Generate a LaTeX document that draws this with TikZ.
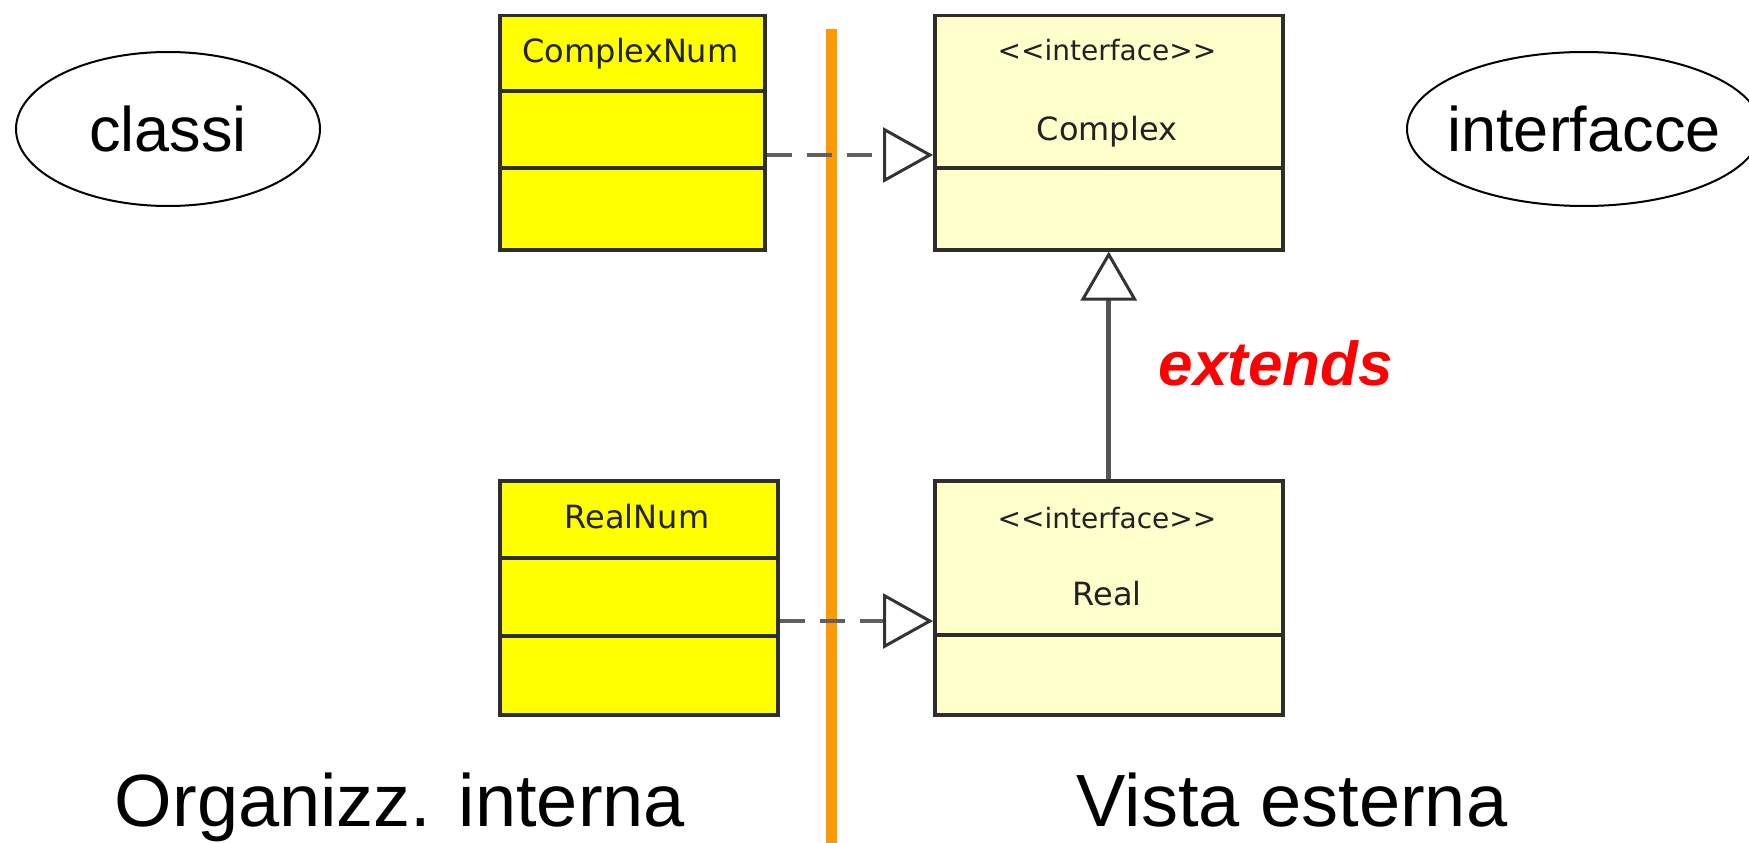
\documentclass[tikz,border=0pt]{standalone}
\usepackage{fontspec}
\setmainfont{Liberation Sans}
\newfontfamily\umlfont{DejaVu Sans}
\usetikzlibrary{arrows.meta,shapes.geometric}

\definecolor{classyellow}{HTML}{FFFF00}
\definecolor{ifaceyellow}{HTML}{FFFFCC}
\definecolor{boxline}{HTML}{2E2E2E}
\definecolor{dashgray}{HTML}{606060}
\definecolor{tipgray}{HTML}{333333}
\definecolor{linkgray}{HTML}{555555}
\definecolor{sideorange}{HTML}{FF9900}
\definecolor{umltext}{HTML}{222222}

\tikzset{
  umlbox/.style={draw=boxline, line width=3.5pt, anchor=north west, inner sep=0pt},
  classbox/.style={umlbox, fill=classyellow},
  ifacebox/.style={umlbox, fill=ifaceyellow},
  boxrule/.style={draw=boxline, line width=3.5pt},
  umlname/.style={font=\umlfont\fontsize{32}{36}\selectfont, text=umltext, anchor=base, inner sep=0pt},
  stereo/.style={font=\umlfont\fontsize{28}{32}\selectfont, text=umltext, anchor=base, inner sep=0pt},
  realize/.style={draw=dashgray, line width=4pt, dash pattern=on 25pt off 15pt,
    -{Triangle[length=50pt, width=55pt, line width=3pt, color=tipgray, fill=white]}},
  generalize/.style={draw=linkgray, line width=5pt,
    -{Triangle[length=49pt, width=56pt, line width=3pt, color=tipgray, fill=white]}},
  bubble/.style={ellipse, draw=black, line width=2pt, inner sep=0pt},
  bubbletext/.style={font=\fontsize{63}{70}\selectfont, inner sep=0pt},
  caption/.style={font=\fontsize{74}{80}\selectfont, anchor=base, inner sep=0pt},
  separator/.style={draw=sideorange, line width=11pt},
}

\begin{document}
\begin{tikzpicture}[x=1pt, y=-1pt]
  \useasboundingbox (0,0) rectangle (1749,843);

  % vertical separator between the two sides
  \coordinate (septop) at (831,29);
  \coordinate (sepbot) at (831,843);
  \draw[separator] (septop) -- (sepbot);

  % implementation classes
  \node[classbox, minimum width=265pt, minimum height=234pt] (cnum) at (498,14) {};
  \draw[boxrule] (cnum.west |- 0,91) -- (cnum.east |- 0,91);
  \draw[boxrule] (cnum.west |- 0,168) -- (cnum.east |- 0,168);
  \node[umlname] (cnumname) at (630.5,63) {ComplexNum};

  \node[classbox, minimum width=278pt, minimum height=234pt] (rnum) at (498,479) {};
  \draw[boxrule] (rnum.west |- 0,558) -- (rnum.east |- 0,558);
  \draw[boxrule] (rnum.west |- 0,636) -- (rnum.east |- 0,636);
  \node[umlname] (rnumname) at (637,528) {RealNum};

  % interfaces
  \node[ifacebox, minimum width=348pt, minimum height=234pt] (cplx) at (933,14) {};
  \draw[boxrule] (cplx.west |- 0,168) -- (cplx.east |- 0,168);
  \node[stereo] (cplxst) at (1107,60) {<<interface>>};
  \node[umlname] (cplxname) at (1107,140) {Complex};

  \node[ifacebox, minimum width=348pt, minimum height=234pt] (real) at (933,479) {};
  \draw[boxrule] (real.west |- 0,635) -- (real.east |- 0,635);
  \node[stereo] (realst) at (1107,528) {<<interface>>};
  \node[umlname] (realname) at (1107,605) {Real};

  % relations
  \draw[realize] (cnum.east |- 0,155) -- (cplx.west |- 0,155);
  \draw[realize] (rnum.east |- 0,621) -- (real.west |- 0,621);
  \draw[generalize] (real.north) -- (cplx.south);
  \node[anchor=base, inner sep=0pt, text=red,
        font=\bfseries\itshape\fontsize{62}{68}\selectfont] (ext) at (1276,385) {extends};

  % side labels
  \node[bubble, minimum width=304pt, minimum height=154pt] (classi) at (168,129) {};
  \node[bubbletext] (classitext) at (classi.center) {classi};
  \node[bubble, minimum width=354pt, minimum height=154pt] (ifc) at (1584,129) {};
  \node[bubbletext] (ifctext) at (ifc.center) {interfacce};
  \node[caption] (inner) at (400,826) {Organizz. interna};
  \node[caption] (outer) at (1292,826) {Vista esterna};
\end{tikzpicture}
\end{document}
